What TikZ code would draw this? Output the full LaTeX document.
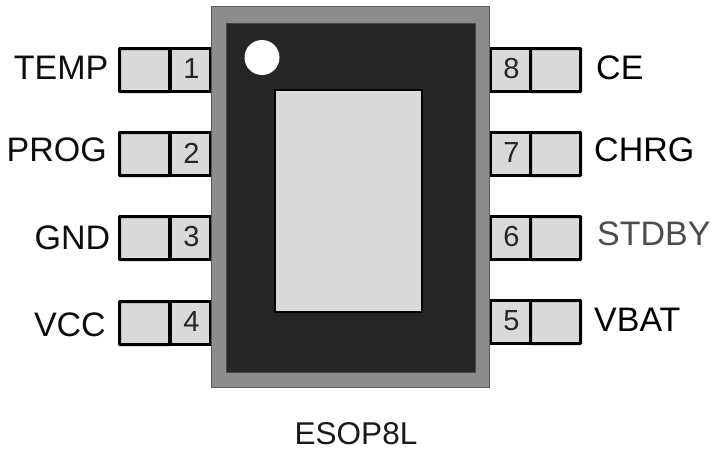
\documentclass[tikz,border=0pt]{standalone}
\usepackage{fontspec}
\setmainfont{Liberation Sans}
\definecolor{pinfill}{HTML}{D9D9D9}
\definecolor{bodyg}{HTML}{8C8C8C}
\definecolor{dark}{HTML}{262626}
\definecolor{edgeg}{HTML}{595959}
\tikzset{
  x=1pt,y=-1pt,
  pinouter/.style={draw=black,line width=3pt,fill=pinfill,rounded corners=0.5pt,inner sep=0,outer sep=0,minimum height=43pt,minimum width=50pt,anchor=center},
  pinnum/.style={draw=black,line width=3pt,fill=pinfill,inner sep=0,outer sep=0,minimum height=43pt,minimum width=40pt},
  numtext/.style={font=\fontsize{29}{29}\selectfont,text=black!85,inner sep=0},
  lbl/.style={font=\fontsize{34}{34}\selectfont,inner sep=0,text=black!95}
}
\begin{document}
\begin{tikzpicture}
\useasboundingbox (0,0) rectangle (718,450);
% pins
\foreach \n/\y/\t/\lx/\ly in {1/70/TEMP/108.5/68,2/154/PROG/107/150,3/238/GND/110.5/238,4/323/VCC/106/325}{
  \node[pinouter] (L\n o) at (144.5,\y) {};
  \node[pinnum] (L\n) at (190.5,\y) {};
  \node[numtext] (N\n) at (191.5,\y-1) {\n};
  \node[lbl,anchor=east] (T\n) at (\lx,\ly) {\t};
}
\foreach \n/\y/\t/\lx/\ly/\c in {8/70/CE/596/68/black,7/154/CHRG/594/150/black,6/238/STDBY/597/234/black!70,5/322/VBAT/594/320/black}{
  \node[pinouter] (R\n o) at (555.5,\y) {};
  \node[pinnum] (R\n) at (510.5,\y) {};
  \node[numtext] (N\n) at (511.5,\y-1) {\n};
  \node[lbl,anchor=west,text=\c] (T\n) at (\lx,\ly) {\t};
}
% package
\node[draw=edgeg,line width=1.5pt,fill=bodyg,minimum width=278pt,minimum height=381pt,inner sep=0,outer sep=0] (body) at (350.5,197) {};
\node[draw=edgeg!80!black,line width=0.5pt,fill=dark,minimum width=249pt,minimum height=349pt,inner sep=0,outer sep=0] (die) at (350.5,197.5) {};
\node[draw=black,line width=2pt,fill=pinfill,minimum width=147pt,minimum height=222pt,inner sep=0,outer sep=0] (pad) at (348.5,201) {};
\node[circle,fill=white,minimum size=35pt,inner sep=0] (dot) at (262,57.5) {};
\node[font=\fontsize{31.5}{31.5}\selectfont,inner sep=0,text=black!90] (name) at (356,434) {ESOP8L};
\end{tikzpicture}
\end{document}
